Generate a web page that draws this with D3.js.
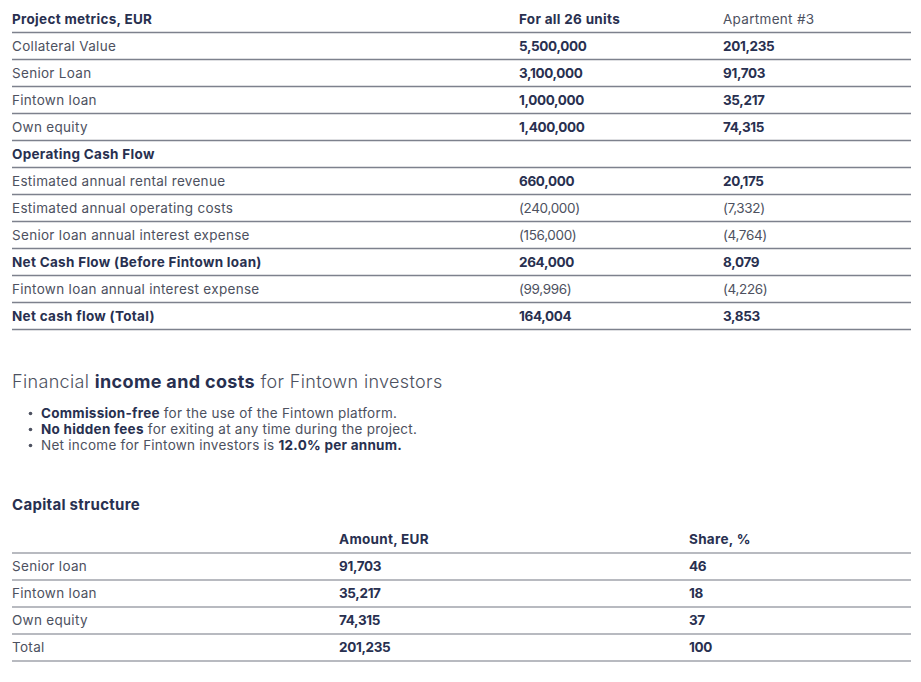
<!DOCTYPE html>
<html><head><meta charset="utf-8">
<script src="https://cdn.jsdelivr.net/npm/d3@7"></script>
<style>
html,body{margin:0;padding:0;background:#fff;}
svg text{font-family:Inter,"Open Sans",sans-serif;}
</style></head>
<body>
<svg id="c" width="921" height="682"></svg>
<script>
// ---- data ----
const metricsHeader = ["Project metrics, EUR", "For all 26 units", "Apartment #3"];
const metricsLabels = ["Collateral Value","Senior Loan","Fintown loan","Own equity","Operating Cash Flow",
  "Estimated annual rental revenue","Estimated annual operating costs","Senior loan annual interest expense",
  "Net Cash Flow (Before Fintown loan)","Fintown loan annual interest expense","Net cash flow (Total)"];
const metricsAll = ["5,500,000","3,100,000","1,000,000","1,400,000","","660,000","(240,000)","(156,000)","264,000","(99,996)","164,004"];
const metricsApt = ["201,235","91,703","35,217","74,315","","20,175","(7,332)","(4,764)","8,079","(4,226)","3,853"];
const labelBold = [false,false,false,false,true,false,false,false,true,false,true];
const valueBold = [true,true,true,true,false,true,false,false,true,false,true];

const incomeTitle = [["Financial ",false],["income and costs",true],[" for Fintown investors",false]];
const bullets = [
  [["Commission-free",true],[" for the use of the Fintown platform.",false]],
  [["No hidden fees",true],[" for exiting at any time during the project.",false]],
  [["Net income for Fintown investors is ",false],["12.0% per annum.",true]]
];

const capitalTitle = "Capital structure";
const capitalHeader = ["", "Amount, EUR", "Share, %"];
const capitalLabels = ["Senior loan","Fintown loan","Own equity","Total"];
const capitalAmount = ["91,703","35,217","74,315","201,235"];
const capitalShare = ["46","18","37","100"];

// ---- styles ----
const DARK = "#283050", GRAY = "#4d5160";
const FS = 13.5;
const svg = d3.select("#c");

function table(g, header, headerBold, rows, cols, y0, rowH, lineColor) {
  const x = d3.scaleOrdinal().domain(d3.range(cols.length)).range(cols);
  const y = d3.scaleLinear().domain([0, 1]).range([y0, y0 + rowH]);
  const all = [header.map((t,i)=>({t, b: headerBold[i]}))].concat(rows);
  all.forEach((r, ri) => {
    r.forEach((c, ci) => {
      g.append("text").attr("x", x(ci)).attr("y", y(ri + 0.5)).attr("dy", "0.35em")
        .attr("font-size", FS).attr("font-weight", c.b ? 700 : 400)
        .attr("letter-spacing", ci === 0 || ri === 0 ? 0.3 : -0.35)
        .attr("fill", c.b ? DARK : GRAY).text(c.t);
    });
    g.append("line").attr("x1", 12).attr("x2", 911)
      .attr("y1", y(ri + 1)).attr("y2", y(ri + 1))
      .attr("stroke", lineColor).attr("stroke-width", 1.5);
  });
}

const g1 = svg.append("g");
table(g1, metricsHeader, [true, true, false],
  metricsLabels.map((l,i)=>[{t:l,b:labelBold[i]},{t:metricsAll[i],b:valueBold[i]},{t:metricsApt[i],b:valueBold[i]}]),
  [12, 519, 723], 5.5, 27, "#7d818d");

// income section
const t = svg.append("text").attr("x", 12).attr("y", 382).attr("dy","0.35em")
  .attr("font-size", 18).attr("letter-spacing", 0.35).attr("fill", GRAY);
incomeTitle.forEach(([s,b]) => t.append("tspan").attr("font-weight", b?700:300).attr("fill", b?DARK:GRAY).text(s));

const by = d3.scaleLinear().domain([0,1]).range([413, 429]);
bullets.forEach((parts, i) => {
  svg.append("circle").attr("cx", 30.5).attr("cy", by(i)+0.5).attr("r", 1.8).attr("fill", GRAY);
  const tt = svg.append("text").attr("x", 41).attr("y", by(i)).attr("dy","0.35em")
    .attr("font-size", FS).attr("letter-spacing", 0.25);
  parts.forEach(([s,b]) => tt.append("tspan").attr("font-weight", b?700:400).attr("fill", b?DARK:GRAY).text(s));
});

svg.append("text").attr("x", 12).attr("y", 505).attr("dy","0.35em")
  .attr("font-size", 15).attr("font-weight", 700).attr("letter-spacing", 0.3).attr("fill", DARK).text(capitalTitle);

const g2 = svg.append("g");
table(g2, capitalHeader, [true, true, true],
  capitalLabels.map((l,i)=>[{t:l,b:false},{t:capitalAmount[i],b:true},{t:capitalShare[i],b:true}]),
  [12, 339, 689], 526, 27, "#a0a3ab");
</script>
</body></html>
